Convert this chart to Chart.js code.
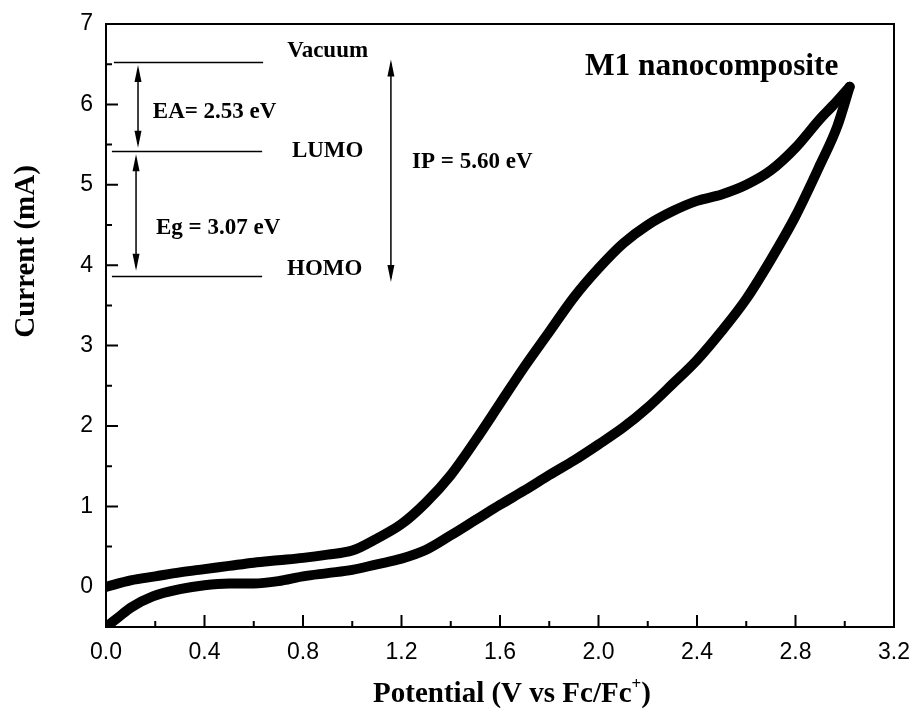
<!DOCTYPE html>
<html>
<head>
<meta charset="utf-8">
<script src="https://cdn.jsdelivr.net/npm/chart.js@4.4.1/dist/chart.umd.min.js"></script>
<style>
body { margin: 0; background: #fff; }
#wrap { width: 915px; height: 710px; }
</style>
</head>
<body>
<div id="wrap"><canvas id="cv" width="915" height="710"></canvas></div>
<script>
// forward scan (lower branch)
var potentialFwd = [0, 0.05, 0.1, 0.19, 0.3, 0.4, 0.5, 0.6, 0.7, 0.8, 0.9, 1.0, 1.1, 1.2, 1.3, 1.4, 1.5, 1.6, 1.7, 1.8, 1.9, 2.0, 2.1, 2.2, 2.3, 2.4, 2.5, 2.6, 2.7, 2.8, 2.9, 2.97, 3.02];
var currentFwd = [-0.5, -0.38, -0.26, -0.12, -0.03, 0.02, 0.04, 0.04, 0.07, 0.13, 0.17, 0.21, 0.28, 0.35, 0.46, 0.64, 0.83, 1.02, 1.2, 1.39, 1.57, 1.77, 1.98, 2.23, 2.52, 2.82, 3.18, 3.58, 4.07, 4.61, 5.25, 5.73, 6.22];
// reverse scan (upper branch)
var potentialRev = [3.02, 2.95, 2.9, 2.8, 2.7, 2.6, 2.5, 2.4, 2.3, 2.2, 2.1, 2.0, 1.9, 1.8, 1.7, 1.6, 1.5, 1.4, 1.3, 1.2, 1.1, 1.0, 0.9, 0.8, 0.7, 0.6, 0.5, 0.4, 0.3, 0.2, 0.1, 0];
var currentRev = [6.22, 5.98, 5.82, 5.46, 5.18, 5.0, 4.88, 4.8, 4.67, 4.5, 4.27, 3.96, 3.6, 3.17, 2.74, 2.28, 1.82, 1.39, 1.05, 0.78, 0.6, 0.45, 0.4, 0.36, 0.33, 0.3, 0.26, 0.22, 0.18, 0.13, 0.08, 0.0];

var xTicks = [0, 0.4, 0.8, 1.2, 1.6, 2.0, 2.4, 2.8, 3.2];
var xMinor = [0.2, 0.6, 1.0, 1.4, 1.8, 2.2, 2.6, 3.0];
var yTicks = [0, 1, 2, 3, 4, 5, 6, 7];
var yMinor = [-0.5, 0.5, 1.5, 2.5, 3.5, 4.5, 5.5, 6.5];

// energy level diagram (data units)
var levelNames = ["Vacuum", "LUMO", "HOMO"];
var levelValues = [6.53, 5.42, 3.87];
var levelStart = [0.032, 0.024, 0.024];
var levelEnd = [0.638, 0.634, 0.634];

function pts(xs, ys) {
    return xs.map(function (x, i) { return { x: x, y: ys[i] }; });
}

var serif = "'Liberation Serif', 'Times New Roman', serif";
var sans = "'Liberation Sans', Arial, sans-serif";

function arrow(ctx, x, y1, y2) {
    // double headed vertical arrow, y1 top, y2 bottom (pixels)
    ctx.beginPath();
    ctx.moveTo(x, y1 + 4);
    ctx.lineTo(x, y2 - 4);
    ctx.stroke();
    ctx.beginPath();
    ctx.moveTo(x, y1);
    ctx.lineTo(x - 3.5, y1 + 17);
    ctx.lineTo(x + 3.5, y1 + 17);
    ctx.closePath();
    ctx.fill();
    ctx.beginPath();
    ctx.moveTo(x, y2);
    ctx.lineTo(x - 3.5, y2 - 17);
    ctx.lineTo(x + 3.5, y2 - 17);
    ctx.closePath();
    ctx.fill();
}

var decor = {
    id: 'decor',
    afterDraw: function (chart) {
        var ctx = chart.ctx;
        var a = chart.chartArea;
        var sx = chart.scales.x, sy = chart.scales.y;
        ctx.save();
        ctx.strokeStyle = '#000';
        ctx.fillStyle = '#000';

        // frame
        ctx.lineWidth = 2;
        ctx.strokeRect(a.left, a.top, a.right - a.left, a.bottom - a.top);

        // inward ticks
        ctx.beginPath();
        xTicks.forEach(function (v) {
            var px = sx.getPixelForValue(v);
            ctx.moveTo(px, a.bottom); ctx.lineTo(px, a.bottom - 12);
        });
        xMinor.forEach(function (v) {
            var px = sx.getPixelForValue(v);
            ctx.moveTo(px, a.bottom); ctx.lineTo(px, a.bottom - 6);
        });
        yTicks.forEach(function (v) {
            var py = sy.getPixelForValue(v);
            ctx.moveTo(a.left, py); ctx.lineTo(a.left + 12, py);
        });
        yMinor.forEach(function (v) {
            var py = sy.getPixelForValue(v);
            ctx.moveTo(a.left, py); ctx.lineTo(a.left + 6, py);
        });
        ctx.stroke();

        // energy levels
        ctx.lineWidth = 1.5;
        ctx.beginPath();
        levelValues.forEach(function (v, i) {
            var py = Math.round(sy.getPixelForValue(v)) + 0.5;
            ctx.moveTo(sx.getPixelForValue(levelStart[i]), py);
            ctx.lineTo(sx.getPixelForValue(levelEnd[i]), py);
        });
        ctx.stroke();
        arrow(ctx, sx.getPixelForValue(0.13), sy.getPixelForValue(6.49), sy.getPixelForValue(5.46));
        arrow(ctx, sx.getPixelForValue(0.122), sy.getPixelForValue(5.38), sy.getPixelForValue(3.93));
        arrow(ctx, sx.getPixelForValue(1.157), sy.getPixelForValue(6.56), sy.getPixelForValue(3.79));

        ctx.font = 'bold 23px ' + serif;
        ctx.textBaseline = 'alphabetic';
        ctx.textAlign = 'center';
        ctx.fillText(levelNames[0], sx.getPixelForValue(0.90), sy.getPixelForValue(6.59));
        ctx.textAlign = 'left';
        ctx.fillText(levelNames[1], sx.getPixelForValue(0.755), sy.getPixelForValue(5.35));
        ctx.fillText(levelNames[2], sx.getPixelForValue(0.735), sy.getPixelForValue(3.88));
        ctx.fillText('EA= 2.53 eV', sx.getPixelForValue(0.19), sy.getPixelForValue(5.83));
        ctx.fillText('Eg = 3.07 eV', sx.getPixelForValue(0.203), sy.getPixelForValue(4.39));
        ctx.fillText('IP = 5.60 eV', sx.getPixelForValue(1.243), sy.getPixelForValue(5.21));

        // sample label (condensed in the original)
        ctx.save();
        ctx.translate(sx.getPixelForValue(1.945), sy.getPixelForValue(6.36));
        ctx.scale(0.98, 1);
        ctx.font = 'bold 32px ' + serif;
        ctx.fillText('M1 nanocomposite', 0, 0);
        ctx.restore();

        // axis titles
        ctx.font = 'bold 29px ' + serif;
        var main = 'Potential (V vs Fc/Fc';
        var w1 = ctx.measureText(main).width;
        var wClose = ctx.measureText(')').width;
        ctx.font = 'bold 17px ' + serif;
        var wPlus = ctx.measureText('+').width;
        var total = w1 + wPlus + wClose;
        var x0 = (a.left + a.right) / 2 - total / 2 + 12;
        var by = 702;
        ctx.font = 'bold 29px ' + serif;
        ctx.fillText(main, x0, by);
        ctx.font = 'bold 17px ' + serif;
        ctx.fillText('+', x0 + w1, by - 13);
        ctx.font = 'bold 29px ' + serif;
        ctx.fillText(')', x0 + w1 + wPlus, by);

        ctx.save();
        ctx.translate(34, (a.top + a.bottom) / 2 - 74);
        ctx.rotate(-Math.PI / 2);
        ctx.textAlign = 'center';
        ctx.font = 'bold 29px ' + serif;
        ctx.fillText('Current (mA)', 0, 0);
        ctx.restore();

        ctx.restore();
    }
};

var ctx = document.getElementById('cv').getContext('2d');
var chart = new Chart(ctx, {
    type: 'line',
    data: {
        datasets: [{
            data: pts(potentialFwd, currentFwd),
            borderColor: '#000',
            borderWidth: 10,
            pointRadius: 0,
            cubicInterpolationMode: 'monotone',
            borderCapStyle: 'round',
            borderJoinStyle: 'round',
            fill: false
        }, {
            data: pts(potentialRev, currentRev),
            borderColor: '#000',
            borderWidth: 10,
            pointRadius: 0,
            cubicInterpolationMode: 'monotone',
            borderCapStyle: 'round',
            borderJoinStyle: 'round',
            fill: false
        }]
    },
    options: {
        responsive: false,
        animation: false,
        devicePixelRatio: 1,
        layout: { padding: { top: 24, right: 21, left: 0, bottom: 0 } },
        plugins: { legend: { display: false }, tooltip: { enabled: false } },
        scales: {
            x: {
                type: 'linear',
                min: 0,
                max: 3.2,
                afterBuildTicks: function (s) { s.ticks = xTicks.map(function (v) { return { value: v }; }); },
                afterFit: function (s) { s.height = 83; s.paddingLeft = 0; s.paddingRight = 0; },
                grid: { display: false, drawTicks: false },
                border: { display: false },
                ticks: {
                    color: '#000',
                    padding: 12,
                    maxRotation: 0,
                    autoSkip: false,
                    font: { family: sans, size: 23 },
                    callback: function (v) { return Number(v).toFixed(1); }
                }
            },
            y: {
                type: 'linear',
                min: -0.5,
                max: 7,
                afterBuildTicks: function (s) { s.ticks = yTicks.map(function (v) { return { value: v }; }); },
                afterFit: function (s) { s.width = 106; s.paddingTop = 0; s.paddingBottom = 0; },
                grid: { display: false, drawTicks: false },
                border: { display: false },
                ticks: {
                    color: '#000',
                    padding: 13,
                    autoSkip: false,
                    font: { family: sans, size: 23 },
                    callback: function (v) { return String(v); }
                }
            }
        }
    },
    plugins: [decor]
});
</script>
</body>
</html>
